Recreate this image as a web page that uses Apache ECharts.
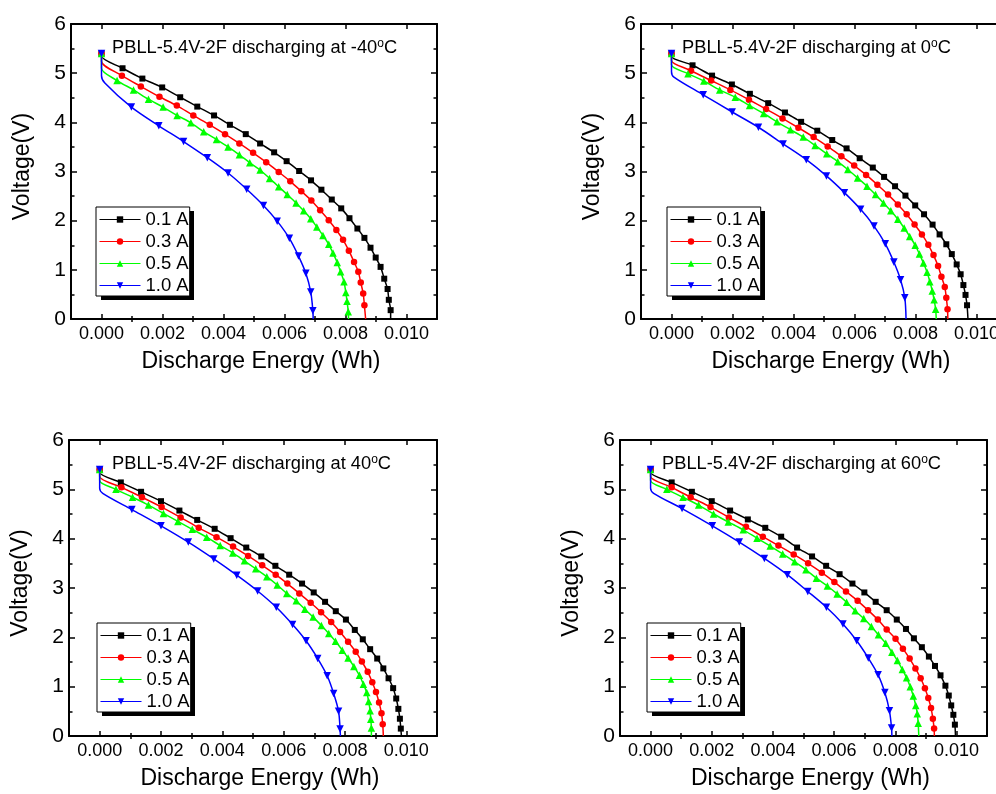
<!DOCTYPE html>
<html><head><meta charset="utf-8">
<script src="https://cdn.jsdelivr.net/npm/echarts@6/dist/echarts.min.js"></script>
<style>html,body{margin:0;padding:0;background:#fff}#c{width:996px;height:794px}</style>
</head><body><div id="c"></div>
<script>
// ---------------- data ----------------
const currents = ['0.1 A', '0.3 A', '0.5 A', '1.0 A'];
const temps = ['-40', '0', '40', '60'];
const xMajor = [0, 0.002, 0.004, 0.006, 0.008, 0.010];
const xMinor = [0.001, 0.003, 0.005, 0.007, 0.009];
const startV = 5.4;

// -40 °C
const m40_01 = [[0.00069,5.10],[0.00134,4.89],[0.00199,4.71],[0.00258,4.51],[0.00314,4.32],[0.00369,4.14],[0.00421,3.95],[0.00473,3.76],[0.00520,3.57],[0.00566,3.39],[0.00607,3.21],[0.00648,3.01],[0.00687,2.82],[0.00721,2.63],[0.00755,2.43],[0.00786,2.25],[0.00813,2.05],[0.00839,1.84],[0.00862,1.65],[0.00882,1.45],[0.00899,1.25],[0.00915,1.06],[0.00927,0.82],[0.00938,0.61],[0.00942,0.39],[0.00948,0.18]];
const m40_03 = [[0.00067,4.95],[0.00129,4.73],[0.00190,4.52],[0.00247,4.34],[0.00301,4.14],[0.00355,3.95],[0.00405,3.76],[0.00452,3.57],[0.00497,3.38],[0.00540,3.19],[0.00581,2.99],[0.00619,2.80],[0.00655,2.60],[0.00688,2.41],[0.00717,2.21],[0.00745,2.01],[0.00770,1.81],[0.00792,1.61],[0.00811,1.39],[0.00828,1.16],[0.00842,0.96],[0.00850,0.74],[0.00858,0.52],[0.00862,0.28]];
const m40_05 = [[0.00051,4.85],[0.00105,4.66],[0.00154,4.47],[0.00202,4.31],[0.00248,4.14],[0.00293,3.99],[0.00335,3.81],[0.00377,3.65],[0.00415,3.50],[0.00452,3.34],[0.00486,3.18],[0.00520,3.03],[0.00551,2.86],[0.00581,2.69],[0.00609,2.53],[0.00638,2.36],[0.00663,2.20],[0.00686,2.04],[0.00706,1.87],[0.00726,1.70],[0.00745,1.52],[0.00759,1.34],[0.00773,1.15],[0.00784,0.96],[0.00795,0.76],[0.00801,0.54],[0.00805,0.36],[0.00809,0.15]];
const m40_10 = [[0.00098,4.31],[0.00188,3.93],[0.00269,3.61],[0.00347,3.28],[0.00415,2.97],[0.00476,2.64],[0.00531,2.31],[0.00576,1.99],[0.00616,1.64],[0.00646,1.28],[0.00670,0.93],[0.00686,0.55],[0.00693,0.17]];
const m40_knee = [5.35, 5.24, 5.10, 4.95];
const m40_bend = [0.00011, 4.80];
const m40_end = [0.00948, 0.00866, 0.00810, 0.00694];

// 0 °C
const z0_01 = [[0.00069,5.16],[0.00133,4.95],[0.00198,4.77],[0.00257,4.58],[0.00317,4.39],[0.00372,4.20],[0.00425,4.01],[0.00478,3.83],[0.00527,3.64],[0.00574,3.47],[0.00617,3.27],[0.00660,3.08],[0.00697,2.89],[0.00733,2.70],[0.00767,2.51],[0.00799,2.31],[0.00828,2.13],[0.00856,1.92],[0.00879,1.72],[0.00901,1.52],[0.00919,1.32],[0.00935,1.11],[0.00948,0.91],[0.00957,0.69],[0.00964,0.49],[0.00969,0.28]];
const z0_03 = [[0.00064,5.05],[0.00130,4.85],[0.00193,4.66],[0.00254,4.46],[0.00310,4.27],[0.00364,4.08],[0.00416,3.89],[0.00466,3.70],[0.00512,3.51],[0.00557,3.31],[0.00599,3.12],[0.00638,2.93],[0.00675,2.73],[0.00710,2.53],[0.00742,2.33],[0.00771,2.13],[0.00797,1.92],[0.00821,1.72],[0.00842,1.51],[0.00859,1.30],[0.00874,1.08],[0.00885,0.86],[0.00896,0.65],[0.00901,0.43],[0.00905,0.20]];
const z0_05 = [[0.00054,4.99],[0.00106,4.84],[0.00158,4.66],[0.00209,4.51],[0.00256,4.34],[0.00302,4.18],[0.00346,4.01],[0.00390,3.85],[0.00432,3.70],[0.00471,3.53],[0.00509,3.36],[0.00545,3.20],[0.00578,3.04],[0.00610,2.87],[0.00641,2.70],[0.00669,2.53],[0.00695,2.36],[0.00719,2.20],[0.00742,2.03],[0.00763,1.85],[0.00781,1.68],[0.00799,1.50],[0.00813,1.32],[0.00826,1.14],[0.00838,0.95],[0.00847,0.76],[0.00855,0.57],[0.00861,0.39],[0.00866,0.20]];
const z0_10 = [[0.00104,4.56],[0.00199,4.21],[0.00285,3.90],[0.00366,3.56],[0.00442,3.24],[0.00508,2.91],[0.00567,2.57],[0.00620,2.23],[0.00664,1.89],[0.00701,1.53],[0.00729,1.16],[0.00751,0.80],[0.00765,0.43]];
const z0_knee = [5.34, 5.26, 5.17, 5.03];
const z0_bend = [0.00008, 4.92];
const z0_end = [0.00972, 0.00906, 0.00868, 0.00769];

// 40 °C
const p40_01 = [[0.00069,5.14],[0.00135,4.95],[0.00200,4.76],[0.00260,4.57],[0.00318,4.38],[0.00375,4.20],[0.00427,4.01],[0.00478,3.82],[0.00527,3.64],[0.00573,3.45],[0.00618,3.27],[0.00660,3.09],[0.00698,2.91],[0.00735,2.72],[0.00770,2.53],[0.00803,2.36],[0.00832,2.15],[0.00858,1.96],[0.00882,1.76],[0.00905,1.57],[0.00925,1.37],[0.00942,1.17],[0.00957,0.97],[0.00967,0.76],[0.00974,0.55],[0.00979,0.35],[0.00982,0.15]];
const p40_03 = [[0.00071,5.04],[0.00138,4.84],[0.00202,4.64],[0.00264,4.43],[0.00323,4.22],[0.00381,4.03],[0.00435,3.84],[0.00484,3.65],[0.00530,3.46],[0.00574,3.27],[0.00612,3.09],[0.00651,2.89],[0.00688,2.70],[0.00722,2.51],[0.00755,2.31],[0.00784,2.11],[0.00810,1.91],[0.00835,1.71],[0.00855,1.51],[0.00874,1.30],[0.00889,1.09],[0.00901,0.89],[0.00911,0.68],[0.00919,0.46],[0.00923,0.24]];
const p40_05 = [[0.00053,5.00],[0.00107,4.84],[0.00159,4.68],[0.00208,4.51],[0.00255,4.35],[0.00302,4.19],[0.00349,4.03],[0.00393,3.86],[0.00434,3.71],[0.00472,3.55],[0.00509,3.39],[0.00545,3.23],[0.00579,3.06],[0.00610,2.89],[0.00641,2.74],[0.00669,2.57],[0.00696,2.41],[0.00723,2.24],[0.00747,2.08],[0.00769,1.92],[0.00791,1.74],[0.00810,1.58],[0.00829,1.41],[0.00847,1.23],[0.00860,1.05],[0.00871,0.88],[0.00877,0.70],[0.00882,0.51],[0.00884,0.34],[0.00886,0.16]];
const p40_10 = [[0.00105,4.59],[0.00200,4.26],[0.00289,3.93],[0.00372,3.59],[0.00447,3.26],[0.00515,2.94],[0.00576,2.61],[0.00629,2.26],[0.00673,1.93],[0.00711,1.57],[0.00742,1.22],[0.00763,0.86],[0.00779,0.50],[0.00784,0.14]];
const p40_knee = [5.34, 5.26, 5.18, 5.02];
const p40_bend = [0.00010, 4.92];
const p40_end = [0.00984, 0.00925, 0.00886, 0.00785];

// 60 °C
const p60_01 = [[0.00069,5.14],[0.00135,4.95],[0.00200,4.76],[0.00260,4.57],[0.00318,4.39],[0.00375,4.22],[0.00427,4.04],[0.00479,3.82],[0.00528,3.64],[0.00574,3.45],[0.00618,3.28],[0.00660,3.09],[0.00699,2.91],[0.00736,2.72],[0.00772,2.55],[0.00805,2.36],[0.00835,2.17],[0.00861,1.98],[0.00887,1.80],[0.00910,1.61],[0.00930,1.42],[0.00948,1.23],[0.00964,1.02],[0.00975,0.82],[0.00983,0.62],[0.00990,0.43],[0.00995,0.23]];
const p60_03 = [[0.00069,5.04],[0.00131,4.84],[0.00196,4.64],[0.00256,4.43],[0.00312,4.24],[0.00367,4.04],[0.00418,3.86],[0.00468,3.68],[0.00515,3.50],[0.00560,3.31],[0.00601,3.12],[0.00639,2.93],[0.00677,2.74],[0.00711,2.55],[0.00743,2.36],[0.00772,2.16],[0.00801,1.97],[0.00825,1.77],[0.00847,1.57],[0.00866,1.37],[0.00883,1.17],[0.00897,0.97],[0.00908,0.77],[0.00917,0.57],[0.00923,0.35],[0.00927,0.15]];
const p60_05 = [[0.00053,5.00],[0.00106,4.84],[0.00157,4.68],[0.00206,4.50],[0.00254,4.34],[0.00303,4.18],[0.00348,4.01],[0.00391,3.85],[0.00432,3.69],[0.00471,3.53],[0.00508,3.37],[0.00542,3.20],[0.00578,3.04],[0.00610,2.88],[0.00641,2.71],[0.00669,2.54],[0.00697,2.38],[0.00722,2.22],[0.00745,2.05],[0.00769,1.88],[0.00789,1.70],[0.00807,1.53],[0.00823,1.35],[0.00837,1.18],[0.00849,1.00],[0.00859,0.81],[0.00867,0.62],[0.00872,0.45],[0.00875,0.26]];
const p60_10 = [[0.00103,4.61],[0.00202,4.26],[0.00290,3.93],[0.00372,3.60],[0.00447,3.27],[0.00514,2.93],[0.00575,2.61],[0.00629,2.27],[0.00674,1.93],[0.00712,1.58],[0.00744,1.24],[0.00766,0.88],[0.00781,0.51],[0.00788,0.16]];
const p60_knee = [5.34, 5.26, 5.18, 5.02];
const p60_bend = [0.00010, 4.92];
const p60_end = [0.00997, 0.00928, 0.00877, 0.00789];

const panelData = [
  {markers: [m40_01, m40_03, m40_05, m40_10], knee: m40_knee, bend: m40_bend, end: m40_end},
  {markers: [z0_01, z0_03, z0_05, z0_10], knee: z0_knee, bend: z0_bend, end: z0_end},
  {markers: [p40_01, p40_03, p40_05, p40_10], knee: p40_knee, bend: p40_bend, end: p40_end},
  {markers: [p60_01, p60_03, p60_05, p60_10], knee: p60_knee, bend: p60_bend, end: p60_end}
];

// ---------------- layout / style ----------------
const FONT = '"Liberation Sans", Arial, sans-serif';
const layout = [
  {grid: {left: 71, top: 24, width: 366, height: 295}, title: {left: 112, top: 38}, legend: {left: 96, top: 207}},
  {grid: {left: 641, top: 24, width: 366, height: 295}, title: {left: 682, top: 38}, legend: {left: 667, top: 207}},
  {grid: {left: 69, top: 440, width: 368, height: 296}, title: {left: 112, top: 454}, legend: {left: 97, top: 623}},
  {grid: {left: 620, top: 440, width: 367, height: 296}, title: {left: 662, top: 454}, legend: {left: 647, top: 623}}
];
const legendBox = {width: 93, height: 89, dx: 5, dy: 4};
const colors = ['#000000', '#ff0000', '#00ff00', '#0000ff'];
const symbols = ['rect', 'circle', 'triangle', 'triangle'];
const symSizes = [6, 6.5, 7.5, 7.5];
const symRot = [0, 0, 0, 180];

function buildData(markers, knee, end, bend) {
  const d = [{value: [0, startV]}, {value: [0, knee], symbol: 'none'}];
  if (bend) d.push({value: bend, symbol: 'none'});
  markers.forEach(p => d.push({value: p}));
  d.push({value: [end, 0], symbol: 'none'});
  return d;
}

const grids = [], xAxes = [], yAxes = [], series = [], titles = [], legends = [], graphics = [];
const axisLineStyle = {color: '#000', width: 2};
const tickLineStyle = {color: '#000', width: 1.5};

layout.forEach((L, i) => {
  grids.push(Object.assign({containLabel: false, outerBoundsMode: 'none'}, L.grid));
  const base = {gridIndex: i, type: 'value', min: -0.001, max: 0.011, splitLine: {show: false}};
  xAxes.push(Object.assign({}, base, {
    position: 'bottom',
    axisLine: {onZero: false, lineStyle: axisLineStyle},
    axisTick: {inside: true, length: 5, customValues: xMajor, lineStyle: tickLineStyle},
    axisLabel: {customValues: xMajor, formatter: v => v.toFixed(3), fontSize: 18, color: '#000', margin: 6, fontFamily: FONT},
    name: 'Discharge Energy (Wh)', nameLocation: 'middle', nameGap: 31,
    nameTextStyle: {fontSize: 23, color: '#000', fontFamily: FONT, padding: [0, 0, 0, 14]}
  }));
  xAxes.push(Object.assign({}, base, {
    position: 'bottom', axisLine: {show: false},
    axisTick: {inside: true, length: 3, customValues: xMinor, lineStyle: tickLineStyle},
    axisLabel: {show: false}
  }));
  xAxes.push(Object.assign({}, base, {
    position: 'top', axisLine: {onZero: false, lineStyle: axisLineStyle},
    axisTick: {inside: true, length: 5, customValues: xMajor, lineStyle: tickLineStyle},
    axisLabel: {show: false}
  }));
  xAxes.push(Object.assign({}, base, {
    position: 'top', axisLine: {show: false},
    axisTick: {inside: true, length: 3, customValues: xMinor, lineStyle: tickLineStyle},
    axisLabel: {show: false}
  }));
  const ybase = {gridIndex: i, type: 'value', min: 0, max: 6, interval: 1, splitLine: {show: false},
    axisLine: {onZero: false, lineStyle: axisLineStyle},
    axisTick: {inside: true, length: 6, lineStyle: tickLineStyle},
    minorTick: {show: true, splitNumber: 2, length: 3.5, lineStyle: tickLineStyle}};
  yAxes.push(Object.assign({}, ybase, {
    position: 'left',
    axisLabel: {fontSize: 21, color: '#000', margin: 5, fontFamily: FONT},
    name: 'Voltage(V)', nameLocation: 'middle', nameGap: 37, nameRotate: 90,
    nameTextStyle: {fontSize: 23, color: '#000', fontFamily: FONT, padding: [0, 0, 0, 10]}
  }));
  yAxes.push(Object.assign({}, ybase, {position: 'right', axisLabel: {show: false}}));

  const P = panelData[i];
  currents.forEach((c, j) => {
    series.push({
      type: 'line', name: c, xAxisIndex: 4 * i, yAxisIndex: 2 * i,
      data: buildData(P.markers[j], P.knee[j], P.end[j], j === 3 ? P.bend : null),
      symbol: symbols[j], symbolSize: symSizes[j], symbolRotate: symRot[j], showAllSymbol: true,
      smooth: 0.3,
      lineStyle: {color: colors[j], width: 1.5},
      itemStyle: {color: colors[j]},
      animation: false
    });
  });

  titles.push({
    left: L.title.left, top: L.title.top, padding: 0,
    text: '{n|PBLL-5.4V-2F discharging at ' + temps[i] + '}{s|o}{n|C}',
    textStyle: {fontWeight: 'normal', rich: {
      n: {fontSize: 18.3, lineHeight: 20, color: '#000', fontFamily: FONT, fontWeight: 'normal'},
      s: {fontSize: 12, lineHeight: 2, verticalAlign: 'top', color: '#000', fontFamily: FONT, fontWeight: 'normal'}
    }}
  });

  legends.push({
    left: L.legend.left, top: L.legend.top, orient: 'vertical', z: 10,
    data: currents, padding: [2, 1, 0, 3], itemGap: 1, itemWidth: 41, itemHeight: 8,
    backgroundColor: '#fff', borderColor: '#000', borderWidth: 1,
    lineStyle: {width: 1},
    textStyle: {fontSize: 18.5, lineHeight: 21, color: '#000', fontFamily: FONT},
    selectedMode: false
  });
  graphics.push({
    type: 'rect', z: 9, silent: true,
    shape: {x: L.legend.left + legendBox.dx, y: L.legend.top + legendBox.dy, width: legendBox.width, height: legendBox.height},
    style: {fill: '#000'}
  });
});

const chart = echarts.init(document.getElementById('c'), null, {renderer: 'canvas'});
chart.setOption({
  animation: false,
  backgroundColor: '#fff',
  textStyle: {fontFamily: FONT},
  grid: grids, xAxis: xAxes, yAxis: yAxes, series: series, title: titles, legend: legends,
  graphic: graphics
});
</script></body></html>
